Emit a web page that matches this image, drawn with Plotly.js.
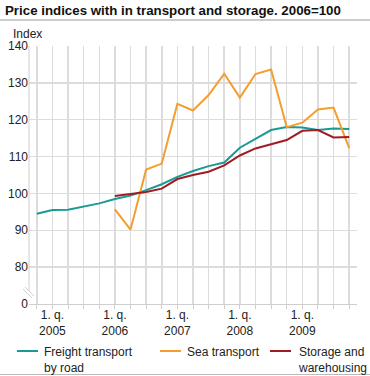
<!DOCTYPE html>
<html>
<head>
<meta charset="utf-8">
<script src="https://cdn.plot.ly/plotly-3.0.1.min.js"></script>
<style>html,body{margin:0;padding:0;background:#fff;}#chart{width:370px;height:376px;}</style>
</head>
<body>
<div id="chart"></div>
<script>
// Quarters from 4q 2004 to 4q 2009 (index 0..20)
const quarters = ["4q2004","1q2005","2q2005","3q2005","4q2005","1q2006","2q2006","3q2006","4q2006","1q2007","2q2007","3q2007","4q2007","1q2008","2q2008","3q2008","4q2008","1q2009","2q2009","3q2009","4q2009"];
const tickLabels = ["1. q.<br>2005","1. q.<br>2006","1. q.<br>2007","1. q.<br>2008","1. q.<br>2009"];
const tickQuarters = ["1q2005","1q2006","1q2007","1q2008","1q2009"];
const seriesNames = ["Freight transport<br>by road","Sea transport","Storage and<br>warehousing"];
const seriesColors = ["#1a9a95","#f59d2e","#a01c24"];
const freightRoad = [94.5,95.5,95.6,96.4,97.3,98.5,99.4,100.9,102.5,104.5,106.1,107.4,108.4,112.4,114.8,117.2,118.0,117.9,117.2,117.6,117.5];
const seaTransport = [null,null,null,null,null,95.7,90.2,106.5,108.1,124.3,122.5,126.7,132.5,126.0,132.4,133.6,118.0,119.2,122.8,123.3,112.3];
const storage = [null,null,null,null,null,99.3,99.8,100.4,101.3,103.9,105.0,105.9,107.6,110.3,112.2,113.3,114.5,117.0,117.2,115.2,115.3];
const yTickVals = [70,80,90,100,110,120,130,140];
const yTickText = ["0","80","90","100","110","120","130","140"];

const xIdx = quarters.map((q,i)=>i);
const tickIdx = tickQuarters.map(q=>quarters.indexOf(q));
const seriesData = [freightRoad,seaTransport,storage];

const W=370,H=376,L=29,R=13,T=46,B=72;
const pw=W-L-R, ph=H-T-B;
const px=x=>(x-L)/pw, py=y=>(H-B-y)/ph;
const gridC="#dcdcdc";

const traces=seriesData.map((d,i)=>({x:xIdx,y:d,name:seriesNames[i],type:"scatter",mode:"lines",line:{color:seriesColors[i],width:2}}));

// legend positions (pixels)
const legLineX=[[17,38],[160,181],[270,291]];
const legTextX=[42,185,296];
const legY=351;

const shapes=[
   {type:"line",xref:"paper",yref:"paper",x0:px(0),x1:px(W),y0:py(20),y1:py(20),line:{color:"#999",width:1}},
   {type:"line",xref:"paper",yref:"paper",x0:px(0),x1:px(W),y0:py(374.5),y1:py(374.5),line:{color:"#bbb",width:1}},
   {type:"line",xref:"paper",yref:"paper",x0:0,x1:0,y0:py(291),y1:1,line:{color:"#cfcfcf",width:1}},
   {type:"line",xref:"paper",yref:"paper",x0:px(23),x1:px(32),y0:py(289),y1:py(298),line:{color:"#cfcfcf",width:1}},
   {type:"line",xref:"paper",yref:"paper",x0:px(25),x1:px(34),y0:py(287),y1:py(296),line:{color:"#cfcfcf",width:1}}
];
const annotations=[
   {text:"Index",xref:"paper",yref:"paper",x:px(11),y:py(34),xanchor:"left",yanchor:"middle",showarrow:false,font:{size:12,color:"#222"}}
];
seriesNames.forEach((n,i)=>{
  shapes.push({type:"line",xref:"paper",yref:"paper",x0:px(legLineX[i][0]),x1:px(legLineX[i][1]),y0:py(legY),y1:py(legY),line:{color:seriesColors[i],width:2}});
  annotations.push({text:n,xref:"paper",yref:"paper",x:px(legTextX[i]),y:py(legY-8),xanchor:"left",yanchor:"top",align:"left",showarrow:false,font:{size:12,color:"#222"}});
});

const layout={
 width:W,height:H,margin:{l:L,r:R,t:T,b:B},
 paper_bgcolor:"#fff",plot_bgcolor:"#fff",
 font:{family:"Liberation Sans, Arial, sans-serif",size:12,color:"#222"},
 title:{text:"<b>Price indices with in transport and storage. 2006=100</b>",font:{size:13.3,color:"#111"},x:5/W,xanchor:"left",xref:"container",y:1-10/H,yanchor:"middle",yref:"container"},
 xaxis:{range:[-0.5,20.5],tickmode:"array",tickvals:tickIdx,ticktext:tickLabels,showgrid:true,gridcolor:gridC,gridwidth:1.5,
   zeroline:false,showline:true,linecolor:"#cfcfcf",linewidth:1,ticks:"",tickfont:{size:12,color:"#222"},
   minor:{tick0:0,dtick:1,showgrid:true,gridcolor:gridC,gridwidth:1.5,ticks:"outside",ticklen:4,tickcolor:"#cfcfcf"},fixedrange:true},
 yaxis:{range:[70,140],tickmode:"array",tickvals:yTickVals,ticktext:yTickText,showgrid:true,gridcolor:gridC,gridwidth:1.5,
   zeroline:false,showline:false,ticks:"",tickfont:{size:12,color:"#222"},fixedrange:true},
 showlegend:false,
 annotations:annotations,
 shapes:shapes
};
Plotly.newPlot("chart",traces,layout,{staticPlot:true,displayModeBar:false});
</script>
</body>
</html>
